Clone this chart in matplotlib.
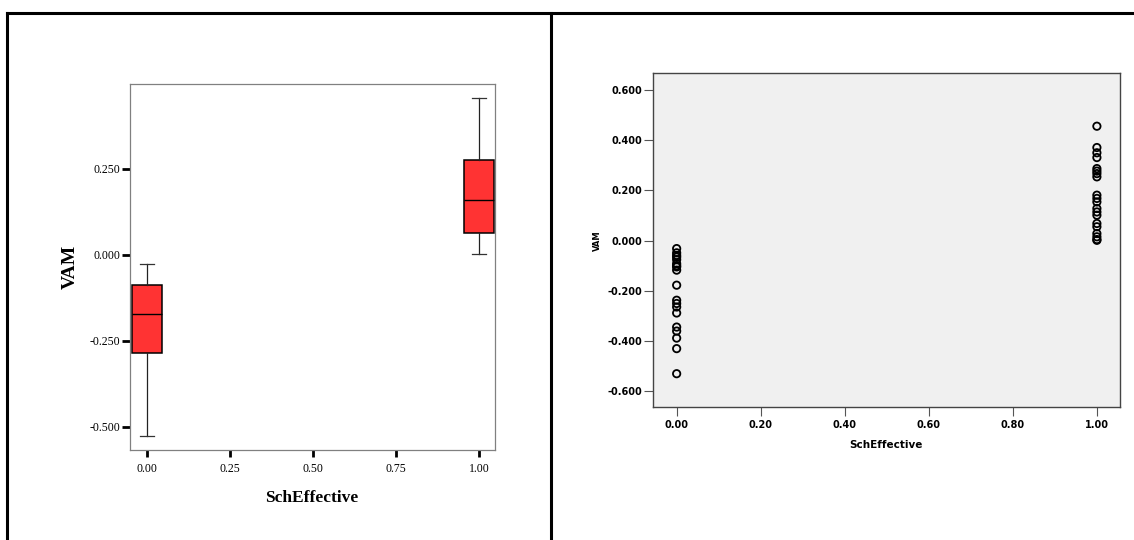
import matplotlib
matplotlib.use("Agg")
import matplotlib.pyplot as plt
from matplotlib.lines import Line2D

# DATA
# box plot summaries (left panel), one entry per SchEffective group
GROUPS   = [0.0, 1.0]
BOX_MED  = [-0.172, 0.160]
BOX_Q1   = [-0.287, 0.064]
BOX_Q3   = [-0.088, 0.276]
WHIS_LO  = [-0.527, 0.002]
WHIS_HI  = [-0.028, 0.455]

# scatter points (right panel)
VAM_NOT_EFF = [-0.032, -0.049, -0.059, -0.066, -0.076, -0.092, -0.100, -0.105,
               -0.118, -0.178, -0.238, -0.251, -0.265, -0.289, -0.345, -0.361,
               -0.389, -0.431, -0.531]
VAM_EFF = [0.456, 0.371, 0.350, 0.331, 0.287, 0.277, 0.267, 0.254, 0.181,
           0.168, 0.154, 0.128, 0.114, 0.101, 0.068, 0.055, 0.028, 0.015,
           0.004, 0.001]

LEFT_YTICKS  = [-0.5, -0.25, 0.0, 0.25]
LEFT_XTICKS  = [0.0, 0.25, 0.5, 0.75, 1.0]
RIGHT_YTICKS = [-0.6, -0.4, -0.2, 0.0, 0.2, 0.4, 0.6]
RIGHT_XTICKS = [0.0, 0.2, 0.4, 0.6, 0.8, 1.0]

BOX_RED = "#FF3333"
SERIF = "Liberation Serif"

fig = plt.figure(figsize=(11.34, 5.4), dpi=100)

# table frame around the two panels
W, H = 1134, 540
for xs, ys in [((7, W), (13, 13)), ((7, 7), (13, H)), ((551, 551), (13, H))]:
    fig.add_artist(Line2D([x / W for x in xs], [1 - y / H for y in ys],
                          transform=fig.transFigure, color="black", linewidth=2.2))

# LEFT: box plot
ax = fig.add_axes([130 / W, 1 - 450 / H, 365 / W, 366 / H])
stats = []
for g, med, q1, q3, lo, hi in zip(GROUPS, BOX_MED, BOX_Q1, BOX_Q3, WHIS_LO, WHIS_HI):
    stats.append({"med": med, "q1": q1, "q3": q3, "whislo": lo, "whishi": hi,
                  "fliers": []})
ax.bxp(stats, positions=GROUPS, widths=0.09, capwidths=0.042, patch_artist=True,
       manage_ticks=False,
       boxprops=dict(facecolor=BOX_RED, edgecolor="black", linewidth=1.1),
       medianprops=dict(color="black", linewidth=1.0),
       whiskerprops=dict(color="#222222", linewidth=0.9),
       capprops=dict(color="#333333", linewidth=0.9))
ax.set_xlim(-0.05, 1.047)
ax.set_ylim(-0.568, 0.496)
ax.set_yticks(LEFT_YTICKS)
ax.set_yticklabels([f"{v:.3f}" for v in LEFT_YTICKS], family=SERIF, fontsize=8.5)
ax.set_xticks(LEFT_XTICKS)
ax.set_xticklabels([f"{v:.2f}" for v in LEFT_XTICKS], family=SERIF, fontsize=8.5)
ax.tick_params(axis="y", direction="out", length=5.8, width=2.0, pad=1.4,
               color="black")
ax.tick_params(axis="x", direction="out", length=5.0, width=2.0, pad=4.0,
               color="black")
for s in ax.spines.values():
    s.set_color("#808080")
    s.set_linewidth(0.9)
ax.set_ylabel("VAM", family=SERIF, fontsize=14, fontweight="bold")
ax.yaxis.set_label_coords(-0.164, 0.5)
ax.yaxis.label.set_va("center")
ax.set_xlabel("SchEffective", family=SERIF, fontsize=12.5, fontweight="bold")
ax.xaxis.set_label_coords(0.498, -0.131)
ax.xaxis.label.set_va("center")

# RIGHT: scatter plot
ax2 = fig.add_axes([652.7 / W, 1 - 407.3 / H, 467.3 / W, 334 / H])
ax2.set_facecolor("#F0F0F0")
ax2.scatter([GROUPS[0]] * len(VAM_NOT_EFF), VAM_NOT_EFF, s=28,
            facecolors="none", edgecolors="black", linewidths=1.3, zorder=3)
ax2.scatter([GROUPS[1]] * len(VAM_EFF), VAM_EFF, s=28,
            facecolors="none", edgecolors="black", linewidths=1.3, zorder=3)
ax2.set_xlim(-0.057, 1.055)
ax2.set_ylim(-0.665, 0.667)
ax2.set_yticks(RIGHT_YTICKS)
ax2.set_yticklabels([f"{v:.3f}" for v in RIGHT_YTICKS], fontsize=7,
                    fontweight="bold")
ax2.set_xticks(RIGHT_XTICKS)
ax2.set_xticklabels([f"{v:.2f}" for v in RIGHT_XTICKS], fontsize=7,
                    fontweight="bold")
ax2.tick_params(axis="y", direction="out", length=6.5, width=0.8, pad=0.8,
                color="#555555")
ax2.tick_params(axis="x", direction="out", length=6.5, width=0.8, pad=3.0,
                color="#555555")
for s in ax2.spines.values():
    s.set_color("#444444")
    s.set_linewidth(1.0)
ax2.set_ylabel("VAM", fontsize=6, fontweight="bold")
ax2.yaxis.set_label_coords(-0.119, 0.5)
ax2.yaxis.label.set_va("center")
ax2.set_xlabel("SchEffective", fontsize=7.5, fontweight="bold")
ax2.xaxis.set_label_coords(0.4986, -0.113)
ax2.xaxis.label.set_va("center")

fig.savefig("out.png", dpi=100)
